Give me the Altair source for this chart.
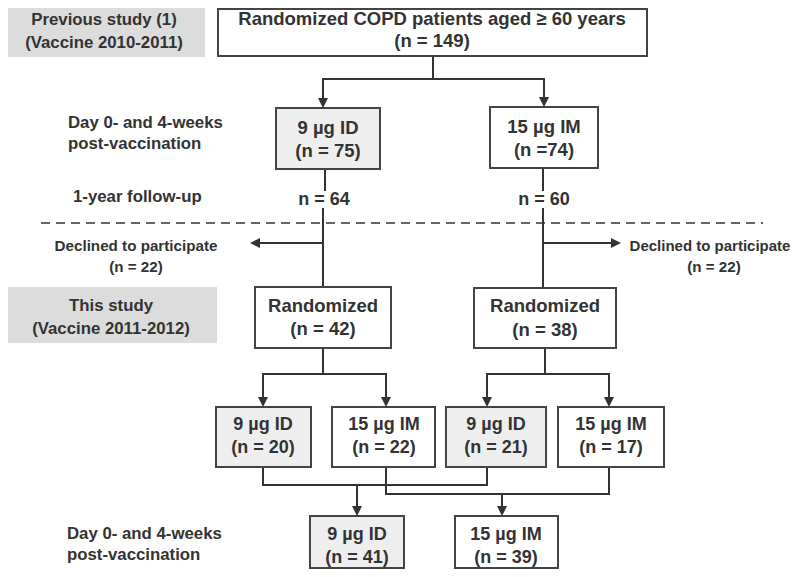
import altair as alt
import pandas as pd

FONT = "Liberation Sans"
INK = "#333333"

# ---- boxes (flowchart nodes) ----
box_x1 = [218, 276, 490, 255, 474, 216, 332, 446, 558, 310, 455]
box_x2 = [647, 380, 598, 391, 616, 311, 435, 546, 664, 404, 558]
box_y1 = [9, 108, 107, 287, 288, 407, 407, 407, 407, 516, 516]
box_y2 = [56, 169, 168, 348, 348, 467, 467, 467, 467, 568, 568]
box_fill = ["#ffffff", "#eeeeee", "#ffffff", "#ffffff", "#ffffff",
            "#eeeeee", "#ffffff", "#eeeeee", "#ffffff", "#eeeeee", "#ffffff"]

# ---- grey label panels ----
panel_x1 = [0, 6]
panel_x2 = [205, 217]
panel_y1 = [3, 287]
panel_y2 = [57, 343]

# ---- connector lines ----
line_x1 = [433, 323, 323, 544, 325, 543, 323, 543, 323, 543,
           323, 263, 263, 386, 545, 487, 487, 609,
           263, 263, 487, 357, 386, 386, 609, 502]
line_x2 = [433, 544, 323, 544, 325, 543, 323, 543, 256, 614,
           323, 386, 263, 386, 545, 609, 487, 609,
           263, 487, 487, 357, 386, 609, 609, 502]
line_y1 = [56, 79, 79, 79, 169, 168, 209, 209, 243, 243,
           348, 374, 374, 374, 348, 374, 374, 374,
           467, 485, 467, 485, 467, 494, 467, 494]
line_y2 = [79, 79, 103, 102, 190, 190, 287, 288, 243, 243,
           374, 374, 402, 402, 374, 374, 402, 402,
           485, 485, 485, 511, 494, 494, 494, 511]

# dashed separator
dash_x1, dash_x2, dash_y = [41], [763], [223]

# arrow heads
down_x = [323, 544, 263, 386, 487, 609, 357, 502]
down_y = [103, 102, 402, 402, 402, 402, 511, 511]
left_x, left_y = [255], [243]
right_x, right_y = [616], [243]

# ---- texts ----
ctext = ["Randomized COPD patients aged \u2265 60 years", "(n = 149)",
         "9 \u00b5g ID", "(n = 75)", "15 \u00b5g IM", "(n =74)",
         "n = 64", "n = 60",
         "Randomized", "(n = 42)", "Randomized", "(n = 38)",
         "9 \u00b5g ID", "(n = 20)", "15 \u00b5g IM", "(n = 22)",
         "9 \u00b5g ID", "(n = 21)", "15 \u00b5g IM", "(n = 17)",
         "9 \u00b5g ID", "(n = 41)", "15 \u00b5g IM", "(n = 39)",
         "Previous study (1)", "(Vaccine 2010-2011)",
         "This study", "(Vaccine 2011-2012)",
         "Declined to participate", "(n = 22)",
         "Declined to participate", "(n = 22)"]
ctext_x = [432, 432, 328, 328, 544, 544, 324, 544,
           323, 323, 545, 545,
           263, 263, 384, 384, 496, 496, 611, 611,
           357, 357, 506, 506,
           104, 104, 111, 111,
           136, 136, 710, 714]
ctext_y = [19, 41, 128, 151, 127, 150, 200, 200,
           306, 329, 306, 330,
           425, 448, 425, 448, 425, 448, 425, 448,
           535, 558, 535, 558,
           20, 43, 306, 329,
           246, 267, 246, 267]
ctext_fs = [18.5, 18.5, 18.5, 18.5, 18.5, 18.5, 18, 18,
            18.5, 18.5, 18.5, 18.5,
            18, 18, 18, 18, 18, 18, 18, 18,
            18, 18, 18, 18,
            16.8, 16.8, 16.8, 16.8,
            15.2, 15.2, 15, 15.2]

ltext = ["Day 0- and 4-weeks", "post-vaccination", "1-year follow-up",
         "Day 0- and 4-weeks", "post-vaccination"]
ltext_x = [68, 68, 73, 67, 67]
ltext_y = [123, 144, 197, 534, 555]

W, H = 784, 561
xs = alt.Scale(domain=[8, 8 + W], nice=False, zero=False)
ys = alt.Scale(domain=[8, 8 + H], nice=False, zero=False, reverse=True)

boxes = pd.DataFrame({"x1": box_x1, "x2": box_x2, "y1": box_y1, "y2": box_y2, "fill": box_fill})
panels = pd.DataFrame({"x1": panel_x1, "x2": panel_x2, "y1": panel_y1, "y2": panel_y2})
lines = pd.DataFrame({"x1": line_x1, "x2": line_x2, "y1": line_y1, "y2": line_y2})
dash = pd.DataFrame({"x1": dash_x1, "x2": dash_x2, "y": dash_y})
downs = pd.DataFrame({"x": down_x, "y": down_y})
lefts = pd.DataFrame({"x": left_x, "y": left_y})
rights = pd.DataFrame({"x": right_x, "y": right_y})
ct = pd.DataFrame({"t": ctext, "x": ctext_x, "y": ctext_y, "fs": ctext_fs})
lt = pd.DataFrame({"t": ltext, "x": ltext_x, "y": ltext_y})

panel_layer = alt.Chart(panels).mark_rect(fill="#dcdcdc", strokeWidth=0).encode(
    x=alt.X("x1:Q", scale=xs, axis=None), x2="x2:Q",
    y=alt.Y("y1:Q", scale=ys, axis=None), y2="y2:Q")

line_layer = alt.Chart(lines).mark_rule(color=INK, strokeWidth=2, strokeCap="square").encode(
    x=alt.X("x1:Q", scale=xs, axis=None), x2="x2:Q",
    y=alt.Y("y1:Q", scale=ys, axis=None), y2="y2:Q")

dash_layer = alt.Chart(dash).mark_rule(color=INK, strokeWidth=1.6, strokeDash=[9, 6]).encode(
    x=alt.X("x1:Q", scale=xs, axis=None), x2="x2:Q",
    y=alt.Y("y:Q", scale=ys, axis=None))

box_layer = alt.Chart(boxes).mark_rect(stroke="#444444", strokeWidth=2).encode(
    x=alt.X("x1:Q", scale=xs, axis=None), x2="x2:Q",
    y=alt.Y("y1:Q", scale=ys, axis=None), y2="y2:Q",
    fill=alt.Fill("fill:N", scale=None))

def heads(df, path):
    return alt.Chart(df).mark_point(shape=path, size=100, filled=True, color=INK, opacity=1).encode(
        x=alt.X("x:Q", scale=xs, axis=None), y=alt.Y("y:Q", scale=ys, axis=None))

down_layer = heads(downs, "M-1,-1L1,-1L0,1Z")
left_layer = heads(lefts, "M1,-1L1,1L-1,0Z")
right_layer = heads(rights, "M-1,-1L-1,1L1,0Z")

ctext_layer = alt.Chart(ct).mark_text(font=FONT, fontWeight="bold", color=INK,
                                      align="center", baseline="middle").encode(
    x=alt.X("x:Q", scale=xs, axis=None), y=alt.Y("y:Q", scale=ys, axis=None),
    text="t:N", size=alt.Size("fs:Q", scale=None))

ltext_layer = alt.Chart(lt).mark_text(font=FONT, fontWeight="bold", color=INK, fontSize=16.8,
                                      align="left", baseline="middle").encode(
    x=alt.X("x:Q", scale=xs, axis=None), y=alt.Y("y:Q", scale=ys, axis=None),
    text="t:N")

chart = alt.layer(panel_layer, dash_layer, line_layer, box_layer,
                  down_layer, left_layer, right_layer, ctext_layer, ltext_layer).properties(
    width=W, height=H, padding=0, autosize=alt.AutoSizeParams(type="none"),
    background="white"
).configure_view(stroke=None)

chart.save("out.html", embed_options={"renderer": "svg", "actions": False})
